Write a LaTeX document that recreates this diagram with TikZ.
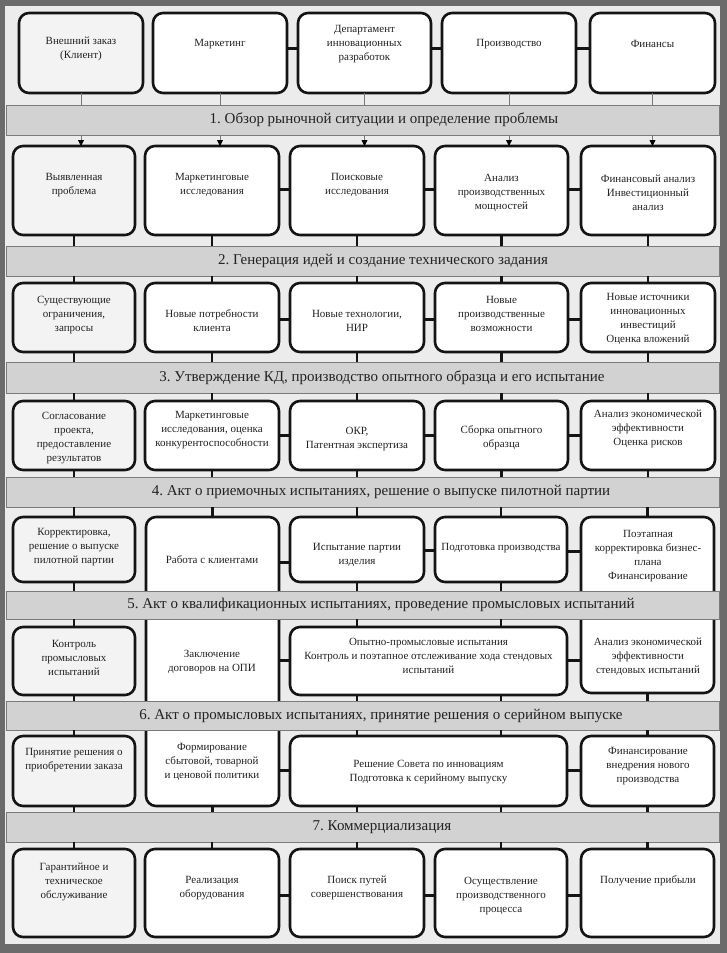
\documentclass[tikz,border=0pt]{standalone}
\usepackage{fontspec}
\setmainfont{Liberation Serif}
\usetikzlibrary{arrows.meta,calc}
\definecolor{outercol}{HTML}{6B6B6B}
\definecolor{bgcol}{HTML}{ECECEC}
\definecolor{bandfill}{HTML}{D2D2D2}
\definecolor{bandline}{HTML}{7A7A7A}
\definecolor{boxgray}{HTML}{F3F3F3}
\definecolor{txtcol}{HTML}{222222}
\definecolor{feedcol}{HTML}{777777}
\newcommand\mkbox[6][box]{\node[#1,minimum width={#4-#3},minimum height={#6-#5}] (#2) at ({(#3+#4)/2},{(#5+#6)/2}) {};}
\newcommand\mkband[3]{\node[band,minimum width=713,minimum height={#3-#2}] (#1) at (362.5,{(#2+#3)/2}) {};}
\frenchspacing
\begin{document}
\begin{tikzpicture}[x=1pt,y=-1pt,
  box/.style={draw=black!92,line width=2.6pt,rounded corners=10pt,fill=white,inner sep=0pt,outer sep=0pt},
  lbox/.style={box,fill=boxgray},
  band/.style={draw=bandline,line width=0.9pt,fill=bandfill,inner sep=0pt,outer sep=0pt},
  txt/.style={align=center,font=\fontsize{11}{14}\selectfont,text=txtcol,inner sep=0pt},
  btxt/.style={font=\fontsize{15}{17}\selectfont,text=txtcol,inner sep=0pt},
  conn/.style={line width=3pt,draw=black!92},
  vconn/.style={line width=2.6pt,draw=black!92},
  feed/.style={line width=0.8pt,draw=feedcol},
]
\useasboundingbox (0,0) rectangle (727,953);
\fill[outercol] (0,0) rectangle (727,953);
\fill[bgcol] (5,6) rectangle (720,944);

% ---- boxes ----
% row 0
\mkbox[lbox]{r0c1}{19}{143}{13}{93}
\mkbox{r0c2}{153}{287}{13}{93}
\mkbox{r0c3}{298}{431}{13}{93}
\mkbox{r0c4}{442}{576}{13}{93}
\mkbox{r0c5}{590}{715}{13}{93}
% row 1
\mkbox[lbox]{r1c1}{13}{135}{146}{235}
\mkbox{r1c2}{145}{279}{146}{235}
\mkbox{r1c3}{290}{424}{146}{235}
\mkbox{r1c4}{435}{568}{146}{235}
\mkbox{r1c5}{581}{715}{146}{235}
% row 2
\mkbox[lbox]{r2c1}{13}{135}{283}{352}
\mkbox{r2c2}{145}{279}{283}{352}
\mkbox{r2c3}{290}{424}{283}{352}
\mkbox{r2c4}{435}{568}{283}{352}
\mkbox{r2c5}{581}{715}{283}{352}
% row 3
\mkbox[lbox]{r3c1}{13}{135}{401}{470}
\mkbox{r3c2}{145}{279}{401}{470}
\mkbox{r3c3}{290}{424}{401}{470}
\mkbox{r3c4}{435}{568}{401}{470}
\mkbox{r3c5}{581}{715}{401}{470}
% row 4 (tall boxes in columns 2 and 5)
\mkbox[lbox]{r4c1}{13}{135}{517}{582}
\mkbox{r4c2}{146}{279}{517}{806}
\mkbox{r4c3}{290}{424}{517}{582}
\mkbox{r4c4}{435}{567}{517}{582}
\mkbox{r4c5}{581}{714}{517}{693}
% row 5
\mkbox[lbox]{r5c1}{13}{135}{627}{695}
\mkbox{r5c34}{290}{567}{627}{695}
% row 6
\mkbox[lbox]{r6c1}{13}{135}{736}{806}
\mkbox{r6c34}{290}{567}{736}{806}
\mkbox{r6c5}{581}{714}{736}{806}
% row 7
\mkbox[lbox]{r7c1}{13}{135}{849}{937}
\mkbox{r7c2}{145}{279}{849}{937}
\mkbox{r7c3}{290}{424}{849}{937}
\mkbox{r7c4}{435}{567}{849}{937}
\mkbox{r7c5}{581}{714}{849}{937}

% ---- bands ----
\mkband{b1}{105}{135}
\mkband{b2}{246}{276}
\mkband{b3}{362}{393}
\mkband{b4}{477}{507}
\mkband{b5}{591}{619}
\mkband{b6}{701}{730}
\mkband{b7}{812}{842}
\node[btxt] (b1t) at (384,120) {1. Обзор рыночной ситуации и определение проблемы};
\node[btxt] (b2t) at (383,261) {2. Генерация идей и создание технического задания};
\node[btxt] (b3t) at (382,377.5) {3. Утверждение КД, производство опытного образца и его испытание};
\node[btxt] (b4t) at (381,492) {4. Акт о приемочных испытаниях, решение о выпуске пилотной партии};
\node[btxt] (b5t) at (381,605) {5. Акт о квалификационных испытаниях, проведение промысловых испытаний};
\node[btxt] (b6t) at (381,715.5) {6. Акт о промысловых испытаниях, принятие решения о серийном выпуске};
\node[btxt] (b7t) at (382,827) {7. Коммерциализация};

% ---- horizontal connectors ----
\foreach \r/\y in {r0/48,r1/189,r2/319,r3/435,r7/895}{
  \draw[conn] (\r c2.east |- 0,\y) -- (\r c3.west |- 0,\y);
  \draw[conn] (\r c3.east |- 0,\y) -- (\r c4.west |- 0,\y);
  \draw[conn] (\r c4.east |- 0,\y) -- (\r c5.west |- 0,\y);
}
\draw[conn] (r4c2.east |- 0,562) -- (r4c3.west |- 0,562);
\draw[conn] (r4c3.east |- 0,550) -- (r4c4.west |- 0,550);
\draw[conn] (r4c4.east |- 0,551) -- (r4c5.west |- 0,551);
\draw[conn] (r4c2.east |- 0,660) -- (r5c34.west |- 0,660);
\draw[conn] (r5c34.east |- 0,660) -- (r4c5.west |- 0,660);
\draw[conn] (r4c2.east |- 0,770) -- (r6c34.west |- 0,770);
\draw[conn] (r6c34.east |- 0,770) -- (r6c5.west |- 0,770);

% ---- vertical connectors ----
\foreach \c in {c1,c2,c3,c4,c5}{
  \draw[feed] (r0\c.south) -- (r0\c.south |- b1.north);
  \draw[feed,-{Triangle[length=6pt,width=6pt,color=black]}] (r0\c.south |- b1.south) -- (r0\c.south |- r1\c.north);
  \draw[vconn] (r1\c.south) -- (r1\c.south |- b2.north);
  \draw[vconn] (r2\c.north |- b2.south) -- (r2\c.north);
  \draw[vconn] (r2\c.south) -- (r2\c.south |- b3.north);
  \draw[vconn] (r3\c.north |- b3.south) -- (r3\c.north);
  \draw[vconn] (r3\c.south) -- (r3\c.south |- b4.north);
  \draw[vconn] (r4\c.north |- b4.south) -- (r4\c.north);
  \draw[vconn] (r7\c.north |- b7.south) -- (r7\c.north);
}
% column 1
\draw[vconn] (r4c1.south) -- (r4c1.south |- b5.north);
\draw[vconn] (r5c1.north |- b5.south) -- (r5c1.north);
\draw[vconn] (r5c1.south) -- (r5c1.south |- b6.north);
\draw[vconn] (r6c1.north |- b6.south) -- (r6c1.north);
\draw[vconn] (r6c1.south) -- (r6c1.south |- b7.north);
% column 2 (tall box)
\draw[vconn] (r4c2.south) -- (r4c2.south |- b7.north);
% columns 3 and 4
\foreach \c in {c3,c4}{
  \draw[vconn] (r4\c.south) -- (r4\c.south |- b5.north);
  \draw[vconn] (r4\c.south |- b5.south) -- (r4\c.south |- r5c34.north);
  \draw[vconn] (r4\c.south |- r5c34.south) -- (r4\c.south |- b6.north);
  \draw[vconn] (r4\c.south |- b6.south) -- (r4\c.south |- r6c34.north);
  \draw[vconn] (r4\c.south |- r6c34.south) -- (r4\c.south |- b7.north);
}
% column 5
\draw[vconn] (r4c5.south) -- (r4c5.south |- b6.north);
\draw[vconn] (r6c5.north |- b6.south) -- (r6c5.north);
\draw[vconn] (r6c5.south) -- (r6c5.south |- b7.north);

% ---- texts ----
\node[txt] (t01) at (81,49) {Внешний заказ\\(Клиент)};
\node[txt] (t02) at (220,44) {Маркетинг};
\node[txt] (t03) at (364.5,44) {Департамент\\инновационных\\разработок};
\node[txt] (t04) at (509,44) {Производство};
\node[txt] (t05) at (652.5,44) {Финансы};

\node[txt] (t11) at (74,185) {Выявленная\\проблема};
\node[txt] (t12) at (212,185) {Маркетинговые\\исследования};
\node[txt] (t13) at (357,185) {Поисковые\\исследования};
\node[txt] (t14) at (501.5,193) {Анализ\\производственных\\мощностей};
\node[txt] (t15) at (648,193) {Финансовый анализ\\Инвестиционный\\анализ};

\node[txt] (t21) at (74,315) {Существующие\\ограничения,\\запросы};
\node[txt] (t22) at (212,321) {Новые потребности\\клиента};
\node[txt] (t23) at (357,321) {Новые технологии,\\НИР};
\node[txt] (t24) at (501.5,314) {Новые\\производственные\\возможности};
\node[txt] (t25) at (648,319) {Новые источники\\инновационных\\инвестиций\\Оценка вложений};

\node[txt] (t31) at (74,438) {Согласование\\проекта,\\предоставление\\результатов};
\node[txt] (t32) at (212,430) {Маркетинговые\\исследования, оценка\\конкурентоспособности};
\node[txt] (t33) at (357,439) {ОКР,\\Патентная экспертиза};
\node[txt] (t34) at (501.5,438) {Сборка опытного\\образца};
\node[txt] (t35) at (648,429) {Анализ экономической\\эффективности\\Оценка рисков};

\node[txt] (t41) at (74,547) {Корректировка,\\решение о выпуске\\пилотной партии};
\node[txt] (t42) at (212,560) {Работа с клиентами};
\node[txt] (t43) at (357,555) {Испытание партии\\изделия};
\node[txt] (t44) at (501,548) {Подготовка производства};
\node[txt] (t45) at (648,556) {Поэтапная\\корректировка бизнес-\\плана\\Финансирование};

\node[txt] (t51) at (74,658) {Контроль\\промысловых\\испытаний};
\node[txt] (t52) at (212,662) {Заключение\\договоров на ОПИ};
\node[txt] (t534) at (428.5,656) {Опытно-промысловые испытания\\Контроль и поэтапное отслеживание хода стендовых\\испытаний};
\node[txt] (t55) at (648,657) {Анализ экономической\\эффективности\\стендовых испытаний};

\node[txt] (t61) at (74,760) {Принятие решения о\\приобретении заказа};
\node[txt] (t62) at (212,762) {Формирование\\сбытовой, товарной\\и ценовой политики};
\node[txt] (t634) at (428.5,772) {Решение Совета по инновациям\\Подготовка к серийному выпуску};
\node[txt] (t65) at (648,766) {Финансирование\\внедрения нового\\производства};

\node[txt] (t71) at (74,882) {Гарантийное и\\техническое\\обслуживание};
\node[txt] (t72) at (212,888) {Реализация\\оборудования};
\node[txt] (t73) at (357,888) {Поиск путей\\совершенствования};
\node[txt] (t74) at (501,896) {Осуществление\\производственного\\процесса};
\node[txt] (t75) at (648,881) {Получение прибыли};
\end{tikzpicture}
\end{document}
